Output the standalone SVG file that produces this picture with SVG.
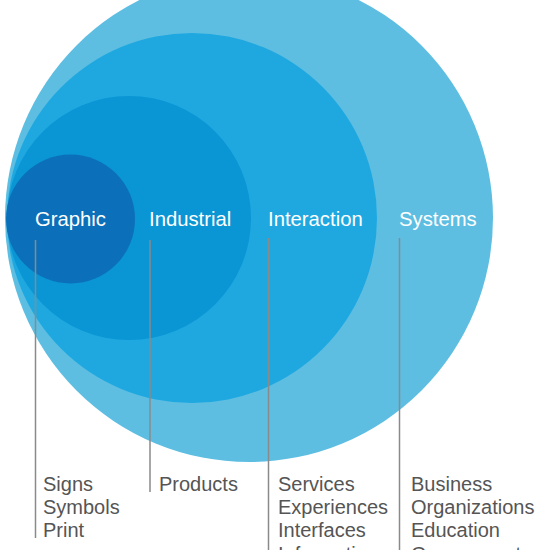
<svg xmlns="http://www.w3.org/2000/svg" width="550" height="550" viewBox="0 0 550 550">
<style>
.lbl{font-family:"Liberation Sans",Arial,sans-serif;font-size:20.3px;fill:#ffffff}
.item{font-family:"Liberation Sans",Arial,sans-serif;font-size:20px;fill:#555555}
.conn{stroke:#8a8a8a;stroke-width:1.5;fill:none}
</style>
<rect width="550" height="550" fill="#ffffff"/>
<g id="systems">
<circle cx="249" cy="218" r="244" fill="#5dbee2"/>
<text class="lbl" x="399" y="226">Systems</text>
</g>
<g id="interaction">
<circle cx="192" cy="218" r="185" fill="#1fa8e0"/>
<text class="lbl" x="268" y="226">Interaction</text>
</g>
<g id="industrial">
<circle cx="129" cy="218" r="122" fill="#0a95d4"/>
<text class="lbl" x="149" y="226">Industrial</text>
</g>
<g id="graphic">
<circle cx="70.5" cy="219" r="64.5" fill="#0b70b9"/>
<text class="lbl" x="35" y="226">Graphic</text>
</g>
<g id="connectors">
<line class="conn" x1="35.5" y1="240" x2="35.5" y2="538"/>
<line class="conn" x1="150" y1="240" x2="150" y2="492"/>
<line class="conn" x1="268.5" y1="238" x2="268.5" y2="550"/>
<line class="conn" x1="399.5" y1="238" x2="399.5" y2="550"/>
</g>
<g id="graphic-items">
<text class="item" x="43" y="491">Signs</text>
<text class="item" x="43" y="514">Symbols</text>
<text class="item" x="43" y="537">Print</text>
</g>
<g id="industrial-items">
<text class="item" x="159" y="491">Products</text>
</g>
<g id="interaction-items">
<text class="item" x="278" y="491">Services</text>
<text class="item" x="278" y="514">Experiences</text>
<text class="item" x="278" y="537">Interfaces</text>
<text class="item" x="278" y="561">Information</text>
</g>
<g id="systems-items">
<text class="item" x="411" y="491">Business</text>
<text class="item" x="411" y="514">Organizations</text>
<text class="item" x="411" y="537">Education</text>
<text class="item" x="411" y="561">Government</text>
</g>
</svg>
